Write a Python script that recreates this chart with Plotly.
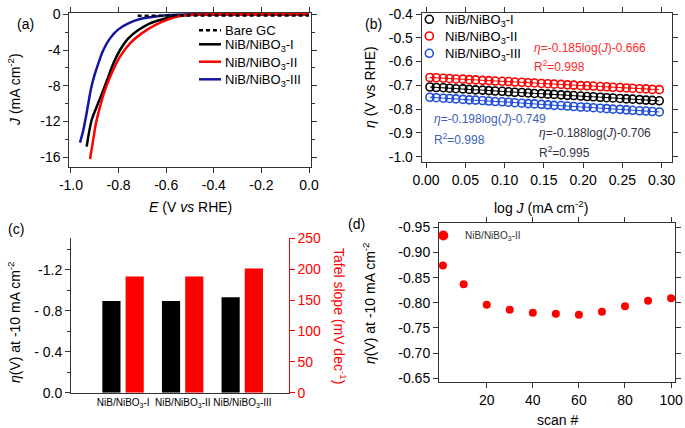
import plotly.graph_objects as go

W, H = 685, 428
FONT = "Liberation Sans, Arial, sans-serif"


def px(x):
    return x / W


def py(y):
    return 1 - y / H


# ---------------- (a) LSV curves ----------------
E_bare = [-0.72, -0.60, -0.40, -0.20, 0.00]
J_bare = [-0.15, -0.13, -0.12, -0.12, -0.12]

E_I = [-0.934, -0.913, -0.892, -0.864, -0.843, -0.822, -0.794, -0.759, -0.717, -0.668, -0.612, -0.556, -0.500, -0.300, 0.000]
J_I = [-14.81, -11.83, -10.34, -8.47, -6.98, -5.49, -3.99, -2.69, -1.76, -1.01, -0.53, -0.19, -0.05, 0.00, 0.00]

E_II = [-0.920, -0.909, -0.895, -0.878, -0.857, -0.829, -0.794, -0.752, -0.703, -0.647, -0.591, -0.542, -0.500, -0.400, 0.000]
J_II = [-16.19, -14.44, -12.20, -10.34, -8.47, -6.60, -4.74, -3.25, -2.13, -1.20, -0.56, -0.19, -0.06, -0.01, 0.00]

E_III = [-0.962, -0.948, -0.937, -0.927, -0.917, -0.903, -0.885, -0.864, -0.836, -0.801, -0.759, -0.710, -0.654, -0.584, -0.500, -0.300, 0.000]
J_III = [-14.36, -12.95, -11.46, -9.96, -8.47, -6.98, -5.49, -3.99, -2.69, -1.68, -1.01, -0.53, -0.27, -0.08, -0.02, 0.00, 0.00]

# ---------------- (b) Tafel plots ----------------
logJ = [0.005, 0.013, 0.022, 0.030, 0.038, 0.047, 0.055, 0.063, 0.072, 0.080, 0.088, 0.097,
        0.105, 0.113, 0.122, 0.130, 0.138, 0.147, 0.155, 0.163, 0.172, 0.180, 0.188, 0.197,
        0.205, 0.213, 0.222, 0.230, 0.238, 0.247, 0.255, 0.263, 0.272, 0.280, 0.288, 0.297]
eta_I = [-0.707, -0.709, -0.710, -0.712, -0.714, -0.715, -0.717, -0.719, -0.720, -0.722, -0.724, -0.725,
         -0.727, -0.729, -0.730, -0.732, -0.734, -0.735, -0.737, -0.738, -0.740, -0.742, -0.743, -0.745,
         -0.747, -0.748, -0.750, -0.752, -0.753, -0.755, -0.757, -0.758, -0.760, -0.762, -0.763, -0.765]
eta_II = [-0.667, -0.668, -0.670, -0.671, -0.673, -0.674, -0.676, -0.677, -0.679, -0.680, -0.682, -0.683,
          -0.684, -0.686, -0.687, -0.689, -0.690, -0.692, -0.693, -0.695, -0.696, -0.698, -0.699, -0.701,
          -0.702, -0.703, -0.705, -0.706, -0.708, -0.709, -0.711, -0.712, -0.714, -0.715, -0.717, -0.718]
eta_III = [-0.750, -0.752, -0.754, -0.755, -0.757, -0.759, -0.761, -0.762, -0.764, -0.766, -0.768, -0.769,
           -0.771, -0.773, -0.775, -0.777, -0.778, -0.780, -0.782, -0.784, -0.785, -0.787, -0.789, -0.791,
           -0.792, -0.794, -0.796, -0.798, -0.800, -0.801, -0.803, -0.805, -0.807, -0.808, -0.810, -0.812]

# ---------------- (c) bars ----------------
catalysts = ["NiB/NiBO<sub>3</sub>-I", "NiB/NiBO<sub>3</sub>-II", "NiB/NiBO<sub>3</sub>-III"]
eta_at_10 = [-0.895, -0.895, -0.931]
tafel_slope = [188, 188, 201]

# ---------------- (d) stability ----------------
scan_no = [1, 10, 20, 30, 40, 50, 60, 70, 80, 90, 100]
eta_scan = [-0.874, -0.837, -0.796, -0.786, -0.780, -0.778, -0.776, -0.782, -0.793, -0.804, -0.809]

# ---------------- tick labels ----------------
a_xt = [-1.0, -0.8, -0.6, -0.4, -0.2, 0.0]
a_xl = ["-1.0", "-0.8", "-0.6", "-0.4", "-0.2", "0.0"]
a_yt = [0, -4, -8, -12, -16]
a_yl = ["0", "-4", "-8", "-12", "-16"]
b_xt = [0.00, 0.05, 0.10, 0.15, 0.20, 0.25, 0.30]
b_xl = ["0.00", "0.05", "0.10", "0.15", "0.20", "0.25", "0.30"]
b_yt = [-0.4, -0.5, -0.6, -0.7, -0.8, -0.9, -1.0]
b_yl = ["-0.4", "-0.5", "-0.6", "-0.7", "-0.8", "-0.9", "-1.0"]
c_yt = [-1.2, -0.8, -0.4, 0.0]
c_yl = ["-1.2", "- 0.8", "- 0.4", "0.0"]
c_y2t = [0, 50, 100, 150, 200, 250]
c_y2l = ["0", "50", "100", "150", "200", "250"]
d_xt = [20, 40, 60, 80, 100]
d_xl = ["20", "40", "60", "80", "100"]
d_yt = [-0.95, -0.90, -0.85, -0.80, -0.75, -0.70, -0.65]
d_yl = ["-0.95", "-0.90", "-0.85", "-0.80", "-0.75", "-0.70", "-0.65"]

RED = "#ff0000"
BLUE_A = "#1414a0"
BLUE_B = "#1f4ed8"
AX = "#333333"

fig = go.Figure()

# (a)
fig.add_trace(go.Scatter(x=E_III, y=J_III, mode="lines", line=dict(color=BLUE_A, width=2.5, shape="spline"),
                         xaxis="x", yaxis="y", showlegend=False))
fig.add_trace(go.Scatter(x=E_I, y=J_I, mode="lines", line=dict(color="black", width=2.5, shape="spline"),
                         xaxis="x", yaxis="y", showlegend=False))
fig.add_trace(go.Scatter(x=E_II, y=J_II, mode="lines", line=dict(color=RED, width=2.5, shape="spline"),
                         xaxis="x", yaxis="y", showlegend=False))
fig.add_trace(go.Scatter(x=E_bare, y=J_bare, mode="lines", line=dict(color="black", width=2.5, dash="4px,3px"),
                         xaxis="x", yaxis="y", showlegend=False))

# (b)
for yy, col in [(eta_I, "black"), (eta_II, RED), (eta_III, BLUE_B)]:
    fig.add_trace(go.Scatter(x=logJ, y=yy, mode="lines+markers",
                             line=dict(color=col, width=1),
                             marker=dict(symbol="circle-open", size=8, color=col, line=dict(width=1.6, color=col)),
                             xaxis="x2", yaxis="y2", showlegend=False))

# (c)
fig.add_trace(go.Bar(x=catalysts, y=eta_at_10, xaxis="x3", yaxis="y3", marker=dict(color="black", line=dict(width=0)),
                     width=0.305, offset=-0.35, showlegend=False))
fig.add_trace(go.Bar(x=catalysts, y=tafel_slope, xaxis="x3", yaxis="y4", marker=dict(color=RED, line=dict(width=0)),
                     width=0.305, offset=0.04, showlegend=False))

# (d)
fig.add_trace(go.Scatter(x=scan_no, y=eta_scan, mode="markers", marker=dict(color=RED, size=8),
                         xaxis="x4", yaxis="y5", showlegend=False))


def box_axis(**kw):
    d = dict(showline=True, linecolor=AX, linewidth=1, mirror="allticks", ticks="outside",
             ticklen=5, tickcolor=AX, tickwidth=1, showgrid=False, zeroline=False, automargin=False,
             tickfont=dict(size=14, color="black", family=FONT), tickmode="array")
    d.update(kw)
    return d


layout = dict(
    template="none",
    width=W, height=H, autosize=False,
    margin=dict(l=0, r=0, t=0, b=0, pad=0),
    paper_bgcolor="white", plot_bgcolor="white",
    font=dict(family=FONT, color="black"),
    barmode="overlay",
    showlegend=False,
    xaxis=box_axis(domain=[px(69.3), px(310.7)], anchor="y", range=[-1.007, 0.007],
                   tickvals=a_xt, ticktext=a_xl),
    yaxis=box_axis(domain=[py(167), py(13)], anchor="x", range=[-17.09, 0.15],
                   tickvals=a_yt, ticktext=a_yl,
                   minor=dict(tickmode="array", tickvals=[-2, -6, -10, -14], ticks="outside", ticklen=3, tickcolor=AX)),
    xaxis2=box_axis(domain=[px(421.7), px(671.7)], anchor="y2", range=[-0.0055, 0.3128],
                    tickvals=b_xt, ticktext=b_xl),
    yaxis2=box_axis(domain=[py(162), py(13)], anchor="x2", range=[-1.0223, -0.3958],
                    tickvals=b_yt, ticktext=b_yl),
    xaxis3=dict(domain=[px(71), px(288.7)], anchor="y3", range=[-0.876, 2.777], type="category",
                showline=True, linecolor=AX, linewidth=1, ticks="", showgrid=False, zeroline=False,
                automargin=False, tickangle=0,
                tickfont=dict(size=10, color="black", family=FONT)),
    yaxis3=dict(domain=[py(392.7), py(238.3)], anchor="x3", range=[0, -1.506],
                showline=True, linecolor=AX, linewidth=1, ticks="outside", ticklen=5, tickcolor=AX,
                showgrid=False, zeroline=False, automargin=False, tickmode="array", tickvals=c_yt, ticktext=c_yl,
                tickfont=dict(size=14, color="black", family=FONT),
                minor=dict(tickmode="array", tickvals=[-1.4, -1.0, -0.6, -0.2], ticks="outside", ticklen=3, tickcolor=AX)),
    yaxis4=dict(overlaying="y3", side="right", anchor="x3", range=[0, 250],
                showline=True, linecolor=RED, linewidth=1, ticks="outside", ticklen=5, tickcolor=RED,
                showgrid=False, zeroline=False, automargin=False, tickmode="array", tickvals=c_y2t, ticktext=c_y2l,
                tickfont=dict(size=14, color=RED, family=FONT)),
    xaxis4=box_axis(domain=[px(439), px(675)], anchor="y5", range=[-0.7, 101.7],
                    tickvals=d_xt, ticktext=d_xl),
    yaxis5=box_axis(domain=[py(381.7), py(223.3)], anchor="x4", range=[-0.643, -0.958],
                    tickvals=d_yt, ticktext=d_yl),
)

ann = []
shapes = []


def text(x, y, s, size=14, color="black", xanchor="center", angle=0):
    ann.append(dict(x=px(x), y=py(y), xref="paper", yref="paper", text=s, showarrow=False,
                    xanchor=xanchor, yanchor="middle", textangle=angle,
                    font=dict(size=size, color=color, family=FONT)))


# panel labels
text(25.5, 24, "(a)")
text(374, 24, "(b)")
text(16, 229, "(c)")
text(356, 224, "(d)")

# axis titles
text(14, 90, "<i>J</i> (mA cm<sup>-2</sup>)", angle=-90)
text(190, 207, "<i>E</i> (V <i>vs</i> RHE)")
text(370, 87, "<i>η</i> (V vs RHE)", angle=-90)
text(541, 207, "log <i>J</i> (mA cm<sup>-2</sup>)")
text(14, 322, "<i>η</i>(V) at -10 mA cm<sup>-2</sup>", angle=-90)
text(340, 316, "Tafel slope (mV dec<sup>-1</sup>)", color=RED, angle=90)
text(369, 303, "<i>η</i>(V) at -10 mA cm<sup>-2</sup>", angle=-90)
text(557, 420, "scan #")

# legend (a)
leg_a = [("Bare GC", "black", "dot", 30.3), ("NiB/NiBO<sub>3</sub>-I", "black", "solid", 44.3),
         ("NiB/NiBO<sub>3</sub>-II", RED, "solid", 61.7), ("NiB/NiBO<sub>3</sub>-III", BLUE_A, "solid", 79.3)]
for lab, col, dash, yy in leg_a:
    shapes.append(dict(type="line", xref="paper", yref="paper", x0=px(199), x1=px(221), y0=py(yy), y1=py(yy),
                       line=dict(color=col, width=2.5, dash="4px,3px" if dash == "dot" else "solid")))
    text(223, yy + (1.5 if "sub" in lab else 0), lab, size=13, xanchor="left")

# legend (b)
leg_b = [("NiB/NiBO<sub>3</sub>-I", "black", 19.3), ("NiB/NiBO<sub>3</sub>-II", RED, 36.0),
         ("NiB/NiBO<sub>3</sub>-III", BLUE_B, 53.3)]
for lab, col, yy in leg_b:
    shapes.append(dict(type="circle", xref="paper", yref="paper", x0=px(425.3), x1=px(433.3),
                       y0=py(yy + 4), y1=py(yy - 4), line=dict(color=col, width=1.6)))
    text(443.3, yy + 1.5, lab, size=13, xanchor="left")

# fit equations (b)
text(531.7, 48, "<i>η</i>=-0.185log(<i>J</i>)-0.666", size=12, color="#ff2a2a", xanchor="left")
text(531.7, 65.7, "R<sup>2</sup>=0.998", size=12, color="#ff2a2a", xanchor="left")
text(432.3, 119, "<i>η</i>=-0.198log(<i>J</i>)-0.749", size=12, color="#3b62b8", xanchor="left")
text(432.3, 139, "R<sup>2</sup>=0.998", size=12, color="#3b62b8", xanchor="left")
text(536.7, 133, "<i>η</i>=-0.188log(<i>J</i>)-0.706", size=12, color="#30303f", xanchor="left")
text(536.7, 152, "R<sup>2</sup>=0.995", size=12, color="#30303f", xanchor="left")

# legend (d)
shapes.append(dict(type="circle", xref="paper", yref="paper", x0=px(438.3), x1=px(448.3),
                   y0=py(240.5), y1=py(230.5), fillcolor=RED, line=dict(color=RED, width=0)))
text(462.7, 236, "NiB/NiBO<sub>3</sub>-II", size=10, color="#333333", xanchor="left")

layout["annotations"] = ann
layout["shapes"] = shapes
fig.update_layout(**layout)

fig.write_html("out.html", config={"displayModeBar": False, "staticPlot": True},
               post_script="document.body.style.margin='0px';document.body.style.padding='0px';")
